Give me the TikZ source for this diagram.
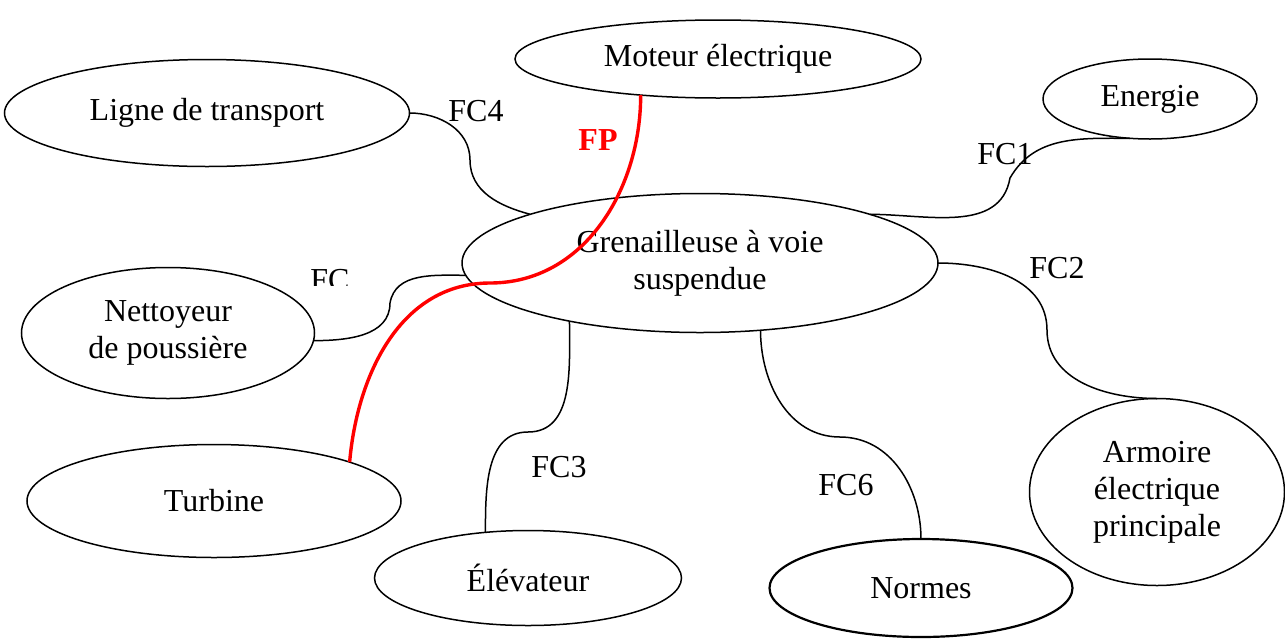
\documentclass[tikz,border=0pt]{standalone}
\usepackage{fontspec}
\setmainfont{Liberation Serif}
\usepackage{xcolor}
\usepackage{tikz}
\usetikzlibrary{shapes.geometric}
\definecolor{fpred}{RGB}{255,0,0}
\definecolor{inkdark}{RGB}{0,0,0}
\tikzset{
  bubble/.style={ellipse,draw=inkdark,line width=0.75pt,inner sep=0pt,outer sep=0pt,align=center,font=\fontsize{16}{18.5}\selectfont},
  tag/.style={inner sep=0pt,font=\fontsize{16}{18.5}\selectfont},
  link/.style={line width=0.75pt,draw=inkdark},
  fplink/.style={line width=1.7pt,draw=fpred},
}

\begin{document}
\begin{tikzpicture}[x=0.5pt,y=-0.5pt]
  \useasboundingbox (0,0) rectangle (1285,638);
  \node[bubble,minimum width=203pt,minimum height=39pt] (moteur) at (718,59) {Moteur électrique};
  \node[bubble,minimum width=202.5pt,minimum height=53.5pt] (ligne) at (207,113) {Ligne de transport};
  \node[bubble,minimum width=107pt,minimum height=40pt] (energie) at (1150,99) {Energie};
  \node[bubble,minimum width=238pt,minimum height=69.5pt] (gren) at (700,263) {Grenailleuse à voie\\suspendue};
  \node[bubble,minimum width=146.5pt,minimum height=65.5pt] (nett) at (168,333) {Nettoyeur\\de poussière};
  \node[bubble,minimum width=187pt,minimum height=56.5pt] (turbine) at (214,501) {Turbine};
  \node[bubble,minimum width=153.5pt,minimum height=47.5pt] (elev) at (528,578) {Élévateur};
  \node[bubble,minimum width=151.5pt,minimum height=49pt,line width=1.1pt] (normes) at (921,588) {Normes};
  \node[bubble,minimum width=127.5pt,minimum height=93.5pt] (armoire) at (1157,492) {Armoire\\électrique\\principale};

  % points where the links turn
  \coordinate (k4) at (470,160);
  \coordinate (k1) at (1010,178);
  \coordinate (kn) at (390,303);
  \coordinate (k2) at (1047,330);
  \coordinate (k3) at (528,432);
  \coordinate (k6) at (840,437);
  \coordinate (kp) at (490,283);

  \draw[link] (ligne.east) to[out=0,in=90] (k4) to[out=-90,in=165] (gren.164);
  \draw[link] (gren.16) to[out=0,in=-100] (k1) to[out=60,in=180] (energie.243);
  \draw[link] (nett.357) to[out=0,in=-90] (kn) to[out=80,in=180] (gren.183);
  \draw[link] (gren.east) to[out=0,in=90] (k2) to[out=-90,in=180] (armoire.north);
  \draw[link] (gren.204) to[out=-90,in=0] (k3) to[out=180,in=90] (elev.133);
  \draw[link] (gren.-48) to[out=-90,in=180] (k6) to[out=0,in=90] (normes.north);
  \draw[fplink] (moteur.205) to[out=-90,in=0] (kp) to[out=180,in=85] (turbine.16);

  \node[tag] (fc4) at (476,111) {FC4};
  \node[tag,text=fpred,font=\fontsize{16}{18.5}\selectfont\bfseries] (fp) at (598,140) {FP};
  \node[tag] (fc1) at (1005,154) {FC1};
  \begin{scope}
    \clip (290,255) rectangle (390,285);
    \node[tag] (fcn) at (330,280) {FC};
  \end{scope}
  \node[tag] (fc2) at (1057,268) {FC2};
  \node[tag] (fc3) at (559,467) {FC3};
  \node[tag] (fc6) at (846,485) {FC6};
\end{tikzpicture}
\end{document}
